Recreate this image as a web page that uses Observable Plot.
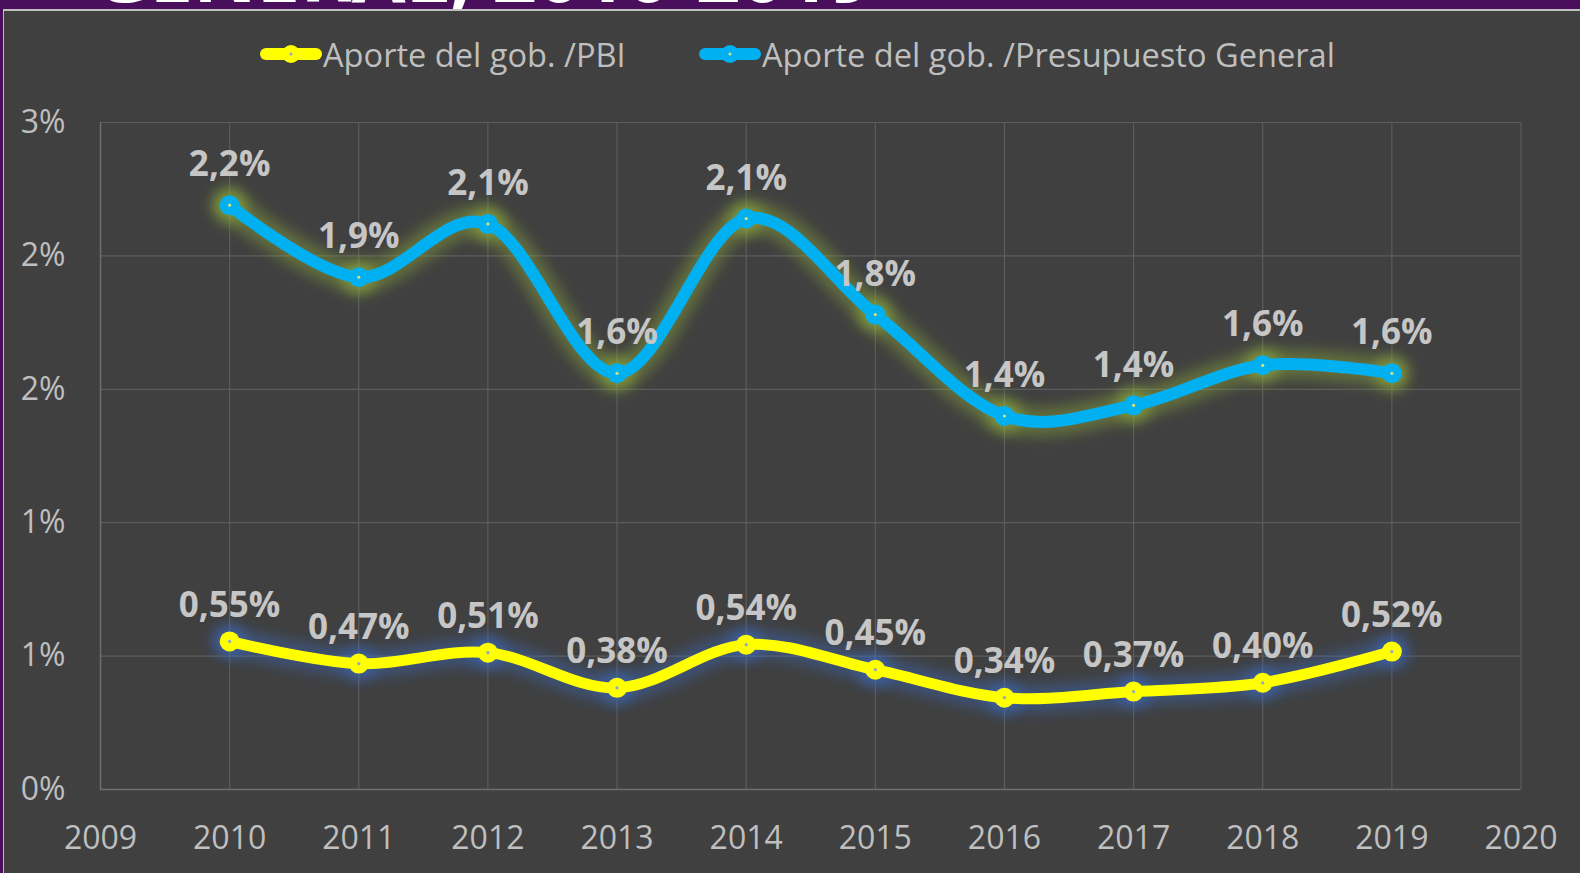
<!DOCTYPE html>
<html>
<head>
<meta charset="utf-8">
<script src="https://cdn.jsdelivr.net/npm/d3@7"></script>
<script src="https://cdn.jsdelivr.net/npm/@observablehq/plot@0.6"></script>
<style>
  html, body { margin: 0; padding: 0; }
  body { width: 1580px; height: 873px; background: #4a0f5c; position: relative; overflow: hidden; font-family: "Open Sans", sans-serif; }
  #titleband { position: absolute; left: 0; top: 0; width: 1580px; height: 9px; overflow: hidden; }
  #titleband span { position: absolute; left: 93px; top: -67px; font-size: 78px; line-height: 78px; font-weight: 700; color: #ffffff; white-space: nowrap; }
  #frame { position: absolute; left: 3px; top: 9px; width: 1576px; height: 862px; background: #404040; border-top: 2px solid #bfbfbf; border-left: 1px solid #bfbfbf; }
  #legend { position: relative; height: 75px; }
  .item { position: absolute; top: 21px; height: 44px; display: flex; align-items: center; color: #bfbfbf; font-size: 32.6px; white-space: nowrap; }
  .item svg { margin-right: 1px; }
  g[stroke="#98b83a"], g[stroke="#3a6fd0"] { filter: url(#glowblur); }
  g[fill="#98b83a"], g[fill="#3a6fd0"] { filter: url(#glowblur); }
</style>
</head>
<body>
<svg width="0" height="0" style="position:absolute">
  <defs>
    <filter id="glowblur" x="-20%" y="-200%" width="140%" height="500%">
      <feGaussianBlur stdDeviation="7"/>
    </filter>
  </defs>
</svg>
<div id="titleband"><span>GENERAL, 2010-2019</span></div>
<div id="frame">
  <div id="legend"></div>
  <div id="chart"></div>
</div>
<script>
// ---- data ----
const years = [2010, 2011, 2012, 2013, 2014, 2015, 2016, 2017, 2018, 2019];
const seriesNames = ["Aporte del gob. /PBI", "Aporte del gob. /Presupuesto General"];
const pbiValues = [0.555, 0.472, 0.513, 0.381, 0.543, 0.449, 0.344, 0.367, 0.400, 0.517];
const pbiLabels = ["0,55%", "0,47%", "0,51%", "0,38%", "0,54%", "0,45%", "0,34%", "0,37%", "0,40%", "0,52%"];
const presValues = [2.19, 1.92, 2.12, 1.56, 2.14, 1.78, 1.40, 1.44, 1.59, 1.56];
const presLabels = ["2,2%", "1,9%", "2,1%", "1,6%", "2,1%", "1,8%", "1,4%", "1,4%", "1,6%", "1,6%"];
const xTicks = [2009, 2010, 2011, 2012, 2013, 2014, 2015, 2016, 2017, 2018, 2019, 2020];
const yTicks = [0, 0.5, 1, 1.5, 2, 2.5];
const yTickLabels = ["0%", "1%", "1%", "2%", "2%", "3%"];

// ---- styles ----
const yellow = "#ffff00";
const blue = "#00b0f0";
const yellowGlow = "#3a6fd0";
const blueGlow = "#98b83a";

const pbi = years.map((year, i) => ({year, value: pbiValues[i], label: pbiLabels[i]}));
const pres = years.map((year, i) => ({year, value: presValues[i], label: presLabels[i]}));

// legend
function swatch(color, center) {
  return `<svg width="62" height="24" viewBox="0 0 62 24">
    <line x1="6" y1="12" x2="56" y2="12" stroke="${color}" stroke-width="12" stroke-linecap="round"/>
    <circle cx="31" cy="12" r="9" fill="${color}"/>
    <circle cx="31" cy="12" r="1.5" fill="${center}"/>
  </svg>`;
}
const legend = document.getElementById("legend");
legend.innerHTML =
  `<div class="item" style="left:256px">${swatch(yellow, "#8fa6c8")}<span>${seriesNames[0]}</span></div>` +
  `<div class="item" style="left:695px">${swatch(blue, "#d6e27a")}<span>${seriesNames[1]}</span></div>`;

const chart = Plot.plot({
  width: 1576,
  height: 787,
  marginLeft: 96,
  marginRight: 59.5,
  marginTop: 36,
  marginBottom: 84,
  style: {background: "transparent", color: "#bfbfbf", fontFamily: "'Open Sans', sans-serif", fontSize: "32px"},
  x: {domain: [2009, 2020], ticks: xTicks, tickFormat: d => String(d), tickSize: 0, tickPadding: 37, label: null},
  y: {domain: [0, 2.5], ticks: yTicks, tickFormat: d => yTickLabels[yTicks.indexOf(d)], tickSize: 0, tickPadding: 35, label: null},
  marks: [
    Plot.ruleY(yTicks.slice(1), {stroke: "#5c5c5c", strokeWidth: 1.2}),
    Plot.ruleX(xTicks.slice(1), {stroke: "#5c5c5c", strokeWidth: 1.2}),
    Plot.ruleX([2009], {stroke: "#6e6e6e", strokeWidth: 1.5}),
    Plot.ruleY([0], {stroke: "#6e6e6e", strokeWidth: 1.5}),
    // glows
    Plot.line(pres, {x: "year", y: "value", curve: "cardinal", stroke: blueGlow, strokeWidth: 28, strokeOpacity: 0.4}),
    Plot.dot(pres, {x: "year", y: "value", r: 17, fill: blueGlow, fillOpacity: 0.55}),
    Plot.line(pbi, {x: "year", y: "value", curve: "cardinal", stroke: yellowGlow, strokeWidth: 26, strokeOpacity: 0.4}),
    Plot.dot(pbi, {x: "year", y: "value", r: 16, fill: yellowGlow, fillOpacity: 0.55}),
    // lines
    Plot.line(pres, {x: "year", y: "value", curve: "cardinal", stroke: blue, strokeWidth: 12, strokeLinecap: "round"}),
    Plot.dot(pres, {x: "year", y: "value", r: 10, fill: blue}),
    Plot.dot(pres, {x: "year", y: "value", r: 1.6, fill: "#d6e27a"}),
    Plot.line(pbi, {x: "year", y: "value", curve: "cardinal", stroke: yellow, strokeWidth: 11, strokeLinecap: "round"}),
    Plot.dot(pbi, {x: "year", y: "value", r: 10, fill: yellow}),
    Plot.dot(pbi, {x: "year", y: "value", r: 1.6, fill: "#8fa6c8"}),
    // labels
    Plot.text(pres, {x: "year", y: "value", text: "label", dy: -40, fill: "#c6c6c6", fontWeight: "bold", fontSize: 35}),
    Plot.text(pbi, {x: "year", y: "value", text: "label", dy: -36, fill: "#c6c6c6", fontWeight: "bold", fontSize: 35})
  ]
});
document.getElementById("chart").appendChild(chart);
</script>
</body>
</html>
